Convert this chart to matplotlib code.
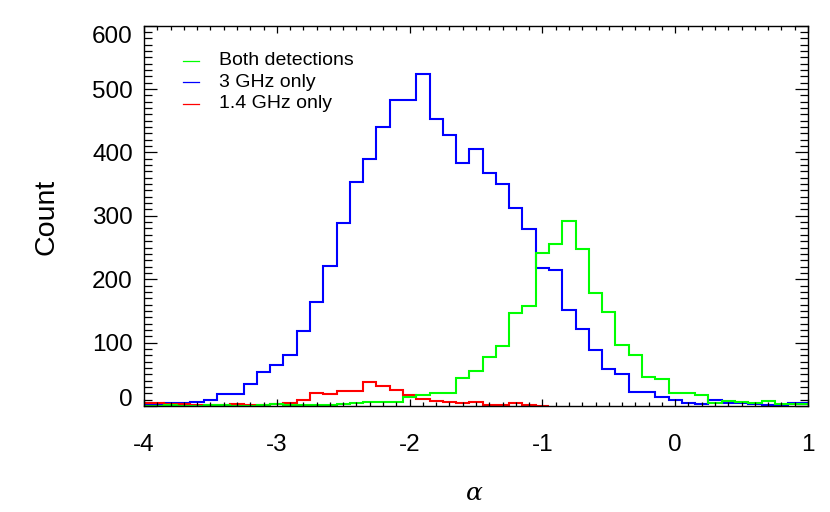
import numpy as np
import matplotlib
matplotlib.use("Agg")
import matplotlib.pyplot as plt
from matplotlib.ticker import MultipleLocator

# bin centres -4.0 ... 1.0, width 0.1
centers = np.round(np.arange(-4.0, 1.0001, 0.1), 2)
edges = np.round(np.arange(-4.05, 1.0501, 0.1), 2)

both_counts = [0, 0, 1, 0, 0, 1, 1, 0, 0, 1,
               3, 1, 1, 1, 1, 3, 4, 6, 6, 7,
               14, 18, 20, 21, 44, 55, 78, 95, 147, 158,
               242, 255, 292, 247, 179, 149, 97, 80, 46, 42,
               20, 20, 17, 5, 8, 6, 5, 8, 3, 3, 3]

only3_counts = [2, 3, 4, 5, 7, 10, 19, 19, 34, 53,
                65, 80, 119, 164, 221, 288, 353, 389, 440, 482,
                482, 523, 452, 427, 383, 405, 368, 350, 313, 279,
                217, 214, 152, 122, 88, 58, 50, 22, 22, 15,
                9, 5, 3, 10, 4, 4, 3, 2, 1, 5, 5]

only14_counts = [4, 4, 3, 3, 2, 2, 2, 3, 2, 1,
                 3, 5, 9, 21, 19, 24, 24, 38, 32, 26,
                 17, 11, 8, 6, 4, 6, 1, 1, 4, 1, 0]

labels = ["Both detections", "3 GHz only", "1.4 GHz only"]
colors = ["#00ff00", "#0000ff", "#ff0000"]

plt.rcParams["font.family"] = ["Liberation Sans", "DejaVu Sans"]

fig = plt.figure(figsize=(8.3, 5.12), dpi=100)
ax = fig.add_axes([0.1735, 0.207, 0.8, 0.743])

ax.stairs(only3_counts, edges, color=colors[1], lw=1.5, baseline=None)
ax.stairs(only14_counts, edges[:len(only14_counts) + 1], color=colors[2], lw=1.5, baseline=None)
ax.stairs(both_counts, edges, color=colors[0], lw=1.5, baseline=None)

ax.set_xlim(-4, 1)
ax.set_ylim(0, 600)

ax.xaxis.set_major_locator(MultipleLocator(1))
ax.xaxis.set_minor_locator(MultipleLocator(0.1))
ax.yaxis.set_major_locator(MultipleLocator(100))
ax.yaxis.set_minor_locator(MultipleLocator(10))

ax.tick_params(axis="both", which="both", direction="in", top=True, right=True,
               width=0.9, labelsize=17.5, colors="black")
ax.tick_params(axis="x", which="major", length=5, pad=20)
ax.tick_params(axis="x", which="minor", length=3)
ax.tick_params(axis="y", which="major", length=9.5, pad=8)
ax.tick_params(axis="y", which="minor", length=5.5)
for s in ax.spines.values():
    s.set_linewidth(1.0)

ax.set_xticks([-4, -3, -2, -1, 0, 1])
ax.set_xticklabels(["-4", "-3", "-2", "-1", "0", "1"])
ax.set_yticks([0, 100, 200, 300, 400, 500, 600])
ax.set_yticklabels(["0", "100", "200", "300", "400", "500", "600"])
yt = ax.yaxis.get_major_ticks()
yt[0].label1.set_va("baseline")
yt[-1].label1.set_va("top")

fig.text(0.056, 0.577, "Count", fontsize=20.5, rotation=90, ha="center", va="center")
fig.text(0.572, 0.037, "\u03b1", fontsize=18, family="DejaVu Serif",
         style="italic", ha="center", va="center")

# legend
for i, (lab, c) in enumerate(zip(labels, colors)):
    yy = 0.908 - i * 0.0565
    ax.plot([0.0587, 0.083], [yy, yy], color=c, lw=0.9, transform=ax.transAxes)
    ax.text(0.113, yy, lab, fontsize=14, va="center", ha="left", transform=ax.transAxes)

fig.savefig("out.png", dpi=100)
